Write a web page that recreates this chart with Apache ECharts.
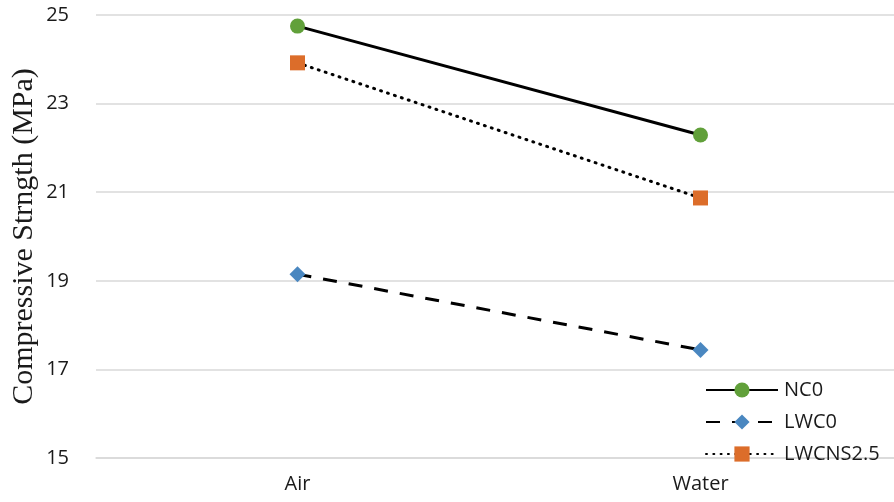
<!DOCTYPE html>
<html>
<head>
<meta charset="utf-8">
<script src="https://cdn.jsdelivr.net/npm/echarts@6/dist/echarts.min.js"></script>
<style>
  html, body { margin: 0; padding: 0; background: #fff; }
  #chart { width: 894px; height: 502px; }
</style>
</head>
<body>
<div id="chart"></div>
<script>
// Curing condition categories and compressive strength per mix
const categories = ['Air', 'Water'];
const nc0 = [24.75, 22.29];
const lwc0 = [19.15, 17.44];
const lwcns25 = [23.92, 20.87];
const yTicks = { min: 15, max: 25, interval: 2 };

const chart = echarts.init(document.getElementById('chart'));
const tickFont = 'Open Sans, Noto Sans, sans-serif';

chart.setOption({
  animation: false,
  backgroundColor: '#fff',
  grid: { left: 96, top: 15, width: 806, height: 443, containLabel: false, outerBoundsMode: 'none' },
  xAxis: {
    type: 'category',
    data: categories,
    boundaryGap: true,
    axisLine: { show: true, lineStyle: { color: '#d9d9d9', width: 1.5 } },
    axisTick: { show: false },
    axisLabel: { color: '#1a1a1a', fontSize: 20, fontFamily: tickFont, margin: 16 }
  },
  yAxis: {
    type: 'value',
    min: yTicks.min,
    max: yTicks.max,
    interval: yTicks.interval,
    name: 'Compressive Strngth (MPa)',
    nameLocation: 'middle',
    nameGap: 57,
    nameMoveOverlap: false,
    nameTextStyle: { fontFamily: 'Liberation Serif, Times New Roman, serif', fontSize: 30, color: '#1a1a1a' },
    axisLine: { show: false },
    axisTick: { show: false },
    axisLabel: { color: '#1a1a1a', fontSize: 20, fontFamily: tickFont, margin: 27 },
    splitLine: { lineStyle: { color: '#d9d9d9', width: 1.5 } }
  },
  legend: {
    orient: 'vertical',
    left: 705,
    top: 379,
    itemWidth: 72,
    itemHeight: 19,
    itemGap: 10,
    padding: 0,
    textStyle: { fontFamily: tickFont, fontSize: 20, color: '#1a1a1a', lineHeight: 22, padding: [0, 0, 0, 1] },
    data: ['NC0', 'LWC0', 'LWCNS2.5']
  },
  series: [
    {
      name: 'NC0', type: 'line', data: nc0,
      symbol: 'circle', symbolSize: 15,
      lineStyle: { color: '#000', width: 3, type: 'solid' },
      itemStyle: { color: '#61a03a' }
    },
    {
      name: 'LWC0', type: 'line', data: lwc0,
      symbol: 'diamond', symbolSize: 16,
      lineStyle: { color: '#000', width: 3, type: [14, 12] },
      itemStyle: { color: '#4a87c0' }
    },
    {
      name: 'LWCNS2.5', type: 'line', data: lwcns25,
      symbol: 'rect', symbolSize: 15,
      lineStyle: { color: '#000', width: 3, type: [1, 6.3], cap: 'round' },
      itemStyle: { color: '#dc6d2a' }
    }
  ]
});
</script>
</body>
</html>
